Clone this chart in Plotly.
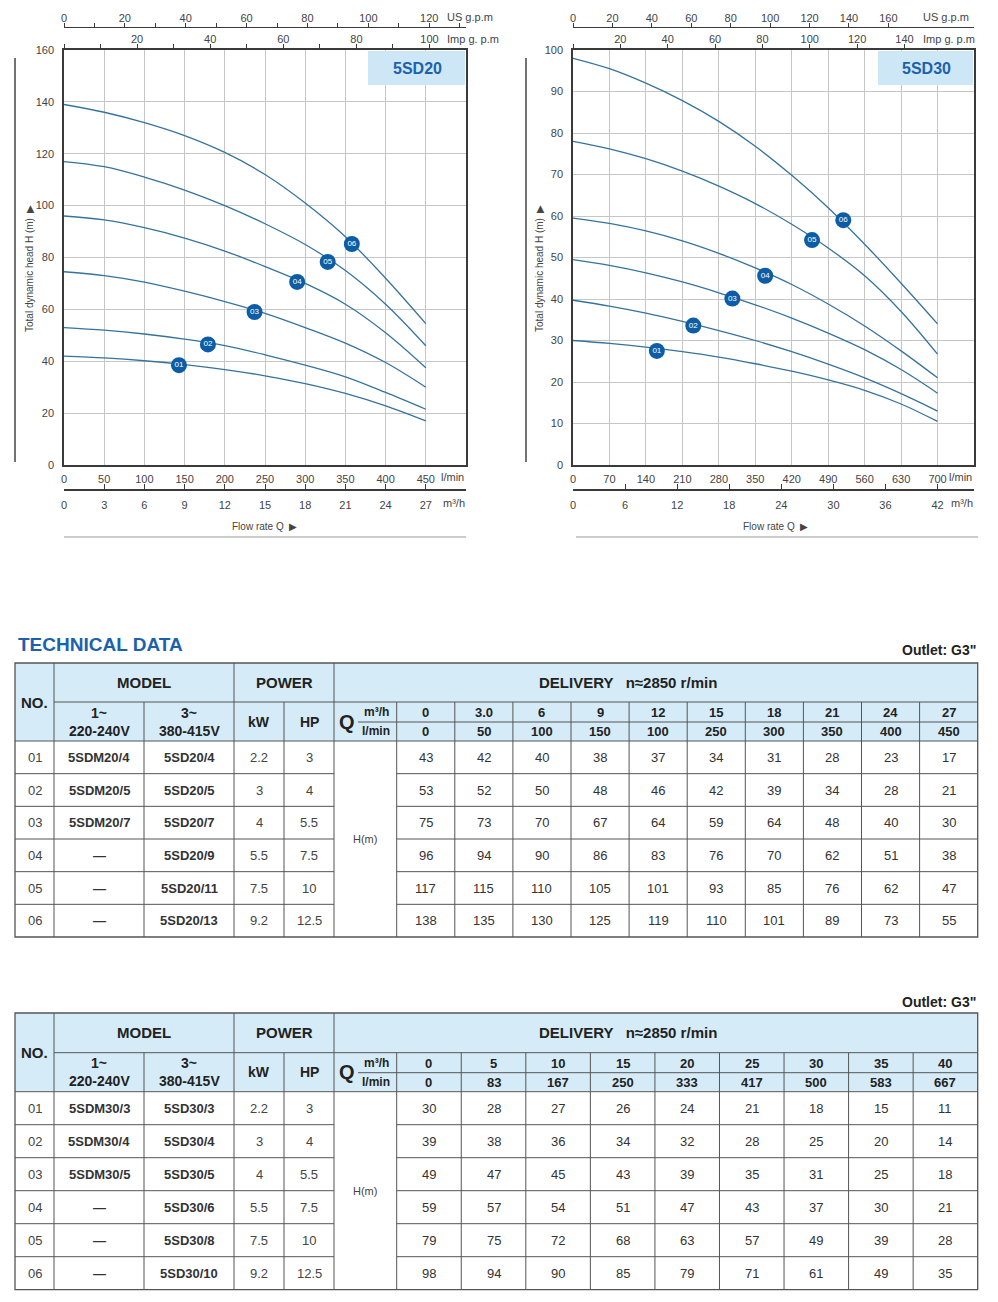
import plotly.graph_objects as go

W, H = 998, 1302
FONT = "Liberation Sans, Arial, Helvetica, sans-serif"
NARROW = "Liberation Sans Narrow, Arial Narrow, Liberation Sans, Arial, sans-serif"
CURVE = "#35739e"
MARK = "#0c5da5"
GRID = "#c6c6c6"
AXIS = "#3a3a3a"
TXT = "#444444"
HDR_FILL = "#d5ecf8"
BOX_FILL = "#cde7f6"
TITLE_BLUE = "#1b62ad"
TBL = "#555555"

# ---------------- chart data ----------------
lpm20 = [0, 50, 100, 150, 200, 250, 300, 350, 400, 450]
h20_01 = [42, 41.3, 40.2, 38.7, 36.8, 34.4, 31.4, 27.6, 22.8, 17]
h20_02 = [53, 52, 50.5, 48.5, 46, 42.5, 38.5, 34, 28, 21.5]
h20_03 = [74.5, 73, 70.5, 67, 63, 58.5, 53, 47, 39.5, 30]
h20_04 = [96, 94.5, 91.5, 87.5, 82.5, 76.5, 70, 62, 51, 37.5]
h20_05 = [117, 115, 111, 106, 100, 93, 85, 75, 62, 46]
h20_06 = [139, 136, 132, 127, 120.5, 112, 101, 88, 72, 54.5]
mk20_lpm = [143, 179, 237, 290, 328, 358]
mk20_h = [38.5, 46.5, 59, 70.6, 78.3, 85.2]

lpm30 = [0, 70, 140, 210, 280, 350, 420, 490, 560, 630, 700]
h30_01 = [30, 29.3, 28.4, 27.3, 26, 24.4, 22.6, 20.5, 18, 14.7, 10.5]
h30_02 = [39.7, 38.3, 36.6, 34.6, 32.4, 30, 27.3, 24.3, 21, 17.2, 13]
h30_03 = [49.5, 48.1, 46.3, 44.1, 41.5, 38.6, 35.4, 31.8, 27.8, 23, 17.3]
h30_04 = [59.5, 58.2, 56.4, 54, 51, 47.5, 43.5, 38.8, 33.5, 27.5, 21]
h30_05 = [78, 76.2, 73.8, 70.8, 67.2, 63, 58, 52.3, 45.6, 37, 26.7]
h30_06 = [98, 95.5, 92, 87.8, 82.8, 76.8, 69.8, 62, 53.2, 43.8, 34]
mk30_lpm = [161, 231, 306, 369, 459, 519]
mk30_h = [27.5, 33.6, 40.1, 45.6, 54.2, 59.0]

curve_labels = ["01", "02", "03", "04", "05", "06"]

# axis ticks
c20_lpm_ticks = [0, 50, 100, 150, 200, 250, 300, 350, 400, 450]
c20_m3h_ticks = [0, 3, 6, 9, 12, 15, 18, 21, 24, 27]
c20_us_ticks = [0, 20, 40, 60, 80, 100, 120]
c20_us_minor = [10, 30, 50, 70, 90, 110, 130]
c20_imp_ticks = [20, 40, 60, 80, 100]
c20_imp_minor = [0, 10, 30, 50, 70, 90, 110]
c20_h_ticks = [0, 20, 40, 60, 80, 100, 120, 140, 160]

c30_lpm_ticks = [0, 70, 140, 210, 280, 350, 420, 490, 560, 630, 700]
c30_m3h_ticks = [0, 6, 12, 18, 24, 30, 36, 42]
c30_us_ticks = [0, 20, 40, 60, 80, 100, 120, 140, 160]
c30_us_minor = []
c30_imp_ticks = [20, 40, 60, 80, 100, 120, 140]
c30_imp_minor = [0]
c30_h_ticks = [0, 10, 20, 30, 40, 50, 60, 70, 80, 90, 100]

# ---------------- table data ----------------
t20_m3h = ["0", "3.0", "6", "9", "12", "15", "18", "21", "24", "27"]
t20_lpm = ["0", "50", "100", "150", "100", "250", "300", "350", "400", "450"]
t20_no = ["01", "02", "03", "04", "05", "06"]
t20_model1 = ["5SDM20/4", "5SDM20/5", "5SDM20/7", "—", "—", "—"]
t20_model3 = ["5SD20/4", "5SD20/5", "5SD20/7", "5SD20/9", "5SD20/11", "5SD20/13"]
t20_kw = ["2.2", "3", "4", "5.5", "7.5", "9.2"]
t20_hp = ["3", "4", "5.5", "7.5", "10", "12.5"]
t20_r01 = [43, 42, 40, 38, 37, 34, 31, 28, 23, 17]
t20_r02 = [53, 52, 50, 48, 46, 42, 39, 34, 28, 21]
t20_r03 = [75, 73, 70, 67, 64, 59, 64, 48, 40, 30]
t20_r04 = [96, 94, 90, 86, 83, 76, 70, 62, 51, 38]
t20_r05 = [117, 115, 110, 105, 101, 93, 85, 76, 62, 47]
t20_r06 = [138, 135, 130, 125, 119, 110, 101, 89, 73, 55]

t30_m3h = ["0", "5", "10", "15", "20", "25", "30", "35", "40"]
t30_lpm = ["0", "83", "167", "250", "333", "417", "500", "583", "667"]
t30_no = ["01", "02", "03", "04", "05", "06"]
t30_model1 = ["5SDM30/3", "5SDM30/4", "5SDM30/5", "—", "—", "—"]
t30_model3 = ["5SD30/3", "5SD30/4", "5SD30/5", "5SD30/6", "5SD30/8", "5SD30/10"]
t30_kw = ["2.2", "3", "4", "5.5", "7.5", "9.2"]
t30_hp = ["3", "4", "5.5", "7.5", "10", "12.5"]
t30_r01 = [30, 28, 27, 26, 24, 21, 18, 15, 11]
t30_r02 = [39, 38, 36, 34, 32, 28, 25, 20, 14]
t30_r03 = [49, 47, 45, 43, 39, 35, 31, 25, 18]
t30_r04 = [59, 57, 54, 51, 47, 43, 37, 30, 21]
t30_r05 = [79, 75, 72, 68, 63, 57, 49, 39, 28]
t30_r06 = [98, 94, 90, 85, 79, 71, 61, 49, 35]


def X(p):
    return p / W


def Y(p):
    return 1 - p / H


fig = go.Figure()
shapes = []
annots = []
layout_axes = {}


def xkey(n):
    return "xaxis" if n == 1 else f"xaxis{n}"


def xref(n):
    return "x" if n == 1 else f"x{n}"


def add_text(x, y, s, size=13, color="#333333", bold=False, xanchor="center",
             family=FONT, angle=0, yanchor="middle"):
    annots.append(dict(
        x=X(x), y=Y(y), xref="paper", yref="paper", showarrow=False,
        text=f"<b>{s}</b>" if bold else s, xanchor=xanchor, yanchor=yanchor,
        textangle=angle, font=dict(size=size, color=color, family=family)))


def hline(x0, x1, y, w=1.0, c=TBL):
    shapes.append(dict(type="line", xref="paper", yref="paper", x0=X(x0), x1=X(x1),
                       y0=Y(y), y1=Y(y), line=dict(color=c, width=w)))


def vline(x, y0, y1, w=1.0, c=TBL):
    shapes.append(dict(type="line", xref="paper", yref="paper", x0=X(x), x1=X(x),
                       y0=Y(y0), y1=Y(y1), line=dict(color=c, width=w)))


def add_chart(base, yname, xl, xr, lpm_max, h_max, lpm_ticks, m3h_ticks, us_ticks,
              us_minor, imp_ticks, imp_minor, h_ticks, lpm, curves, mk_x, mk_y,
              name, box_left, left_line_x, ytitle_x, flow_cx, unit_x, rule_x0, rule_x1):
    n_main, n_m3, n_us, n_imp = base, base + 1, base + 2, base + 3
    yk = "yaxis" if yname == "y" else "yaxis" + yname[1:]
    tickfont = dict(size=11, color=TXT, family=FONT)
    layout_axes[xkey(n_main)] = dict(
        domain=[X(xl), X(xr)], anchor=yname, range=[0, lpm_max],
        tickvals=lpm_ticks, showgrid=True, gridcolor=GRID, gridwidth=1,
        showline=True, mirror=True, linecolor=AXIS, linewidth=1.5,
        ticks="", ticklabelstandoff=3, tickfont=tickfont, zeroline=False,
        automargin=False)
    layout_axes[yk] = dict(
        domain=[Y(465), Y(50)], anchor=xref(n_main), range=[0, h_max],
        tickvals=h_ticks, showgrid=True, gridcolor=GRID, gridwidth=1,
        showline=True, mirror=True, linecolor=AXIS, linewidth=1.5,
        ticks="", ticklabelstandoff=6, tickfont=tickfont, zeroline=False,
        automargin=False)
    layout_axes[xkey(n_m3)] = dict(
        overlaying=xref(n_main), anchor="free", position=Y(490), side="bottom",
        range=[0, lpm_max * 0.06], tickvals=m3h_ticks, ticks="inside", ticklen=5,
        tickwidth=1.2, tickcolor=AXIS, showline=True, linecolor=AXIS, linewidth=1.5,
        showgrid=False, zeroline=False, tickfont=tickfont, ticklabelstandoff=5,
        automargin=False)
    layout_axes[xkey(n_us)] = dict(
        overlaying=xref(n_main), anchor="free", position=Y(27), side="top",
        range=[0, lpm_max / 3.78541], tickvals=us_ticks, ticks="outside", ticklen=4,
        tickwidth=1, tickcolor=AXIS, showline=True, linecolor=AXIS, linewidth=1.2,
        minor=dict(tickvals=us_minor, ticks="outside", ticklen=4, tickcolor=AXIS),
        showgrid=False, zeroline=False, tickfont=tickfont, ticklabelstandoff=-3,
        automargin=False)
    layout_axes[xkey(n_imp)] = dict(
        overlaying=xref(n_main), anchor=yname, side="top",
        range=[0, lpm_max / 4.54609], tickvals=imp_ticks, ticks="outside", ticklen=4,
        tickwidth=1, tickcolor=AXIS, showline=True, linecolor=AXIS, linewidth=1.5,
        minor=dict(tickvals=imp_minor, ticks="outside", ticklen=4, tickcolor=AXIS),
        showgrid=False, zeroline=False, tickfont=tickfont, ticklabelstandoff=-3,
        automargin=False)

    for n in (n_m3, n_us, n_imp):
        fig.add_trace(go.Scatter(x=[0], y=[0], xaxis=xref(n), yaxis=yname, mode="markers",
                                 marker=dict(opacity=0, size=1), hoverinfo="skip",
                                 showlegend=False))
    for h in curves:
        fig.add_trace(go.Scatter(x=lpm, y=h, xaxis=xref(n_main), yaxis=yname, mode="lines",
                                 line=dict(color=CURVE, width=1.3, shape="spline",
                                           smoothing=1.0),
                                 hoverinfo="skip", showlegend=False))
    fig.add_trace(go.Scatter(x=mk_x, y=mk_y, xaxis=xref(n_main), yaxis=yname,
                             mode="markers+text", text=curve_labels,
                             textposition="middle center",
                             textfont=dict(color="white", size=8, family=FONT),
                             marker=dict(size=16, color=MARK), hoverinfo="skip",
                             showlegend=False, cliponaxis=False))

    # name box
    shapes.append(dict(type="rect", xref="paper", yref="paper", x0=X(box_left),
                       x1=X(xr - 1), y0=Y(85), y1=Y(51), fillcolor=BOX_FILL,
                       line=dict(width=0), layer="above"))
    add_text((box_left + xr) / 2, 68, name, size=16, color=TITLE_BLUE, bold=True)
    # left rule, bottom rule
    vline(left_line_x, 58, 462, w=1.5, c="#444444")
    hline(rule_x0, rule_x1, 537, w=1, c="#999999")
    # units
    add_text(unit_x, 17, "US g.p.m", size=11, color=TXT, xanchor="left")
    add_text(unit_x, 39, "Imp g. p.m", size=11, color=TXT, xanchor="left")
    add_text(xr - 0.5, 477, "l/min", size=11, color=TXT, xanchor="right")
    add_text(xr + 1, 503, "m³/h", size=11, color=TXT, xanchor="right")
    add_text(flow_cx, 526, "Flow rate Q  ▶", size=10, color=TXT)
    add_text(ytitle_x, 268, "Total dynamic head H (m)  ▶", size=10, color=TXT, angle=-90)


add_chart(1, "y", 64, 466, 500, 160, c20_lpm_ticks, c20_m3h_ticks, c20_us_ticks,
          c20_us_minor, c20_imp_ticks, c20_imp_minor, c20_h_ticks, lpm20,
          [h20_01, h20_02, h20_03, h20_04, h20_05, h20_06], mk20_lpm, mk20_h,
          "5SD20", 368, 15, 30, 264, 445, 64, 466)
add_chart(5, "y2", 573, 974, 770, 100, c30_lpm_ticks, c30_m3h_ticks, c30_us_ticks,
          c30_us_minor, c30_imp_ticks, c30_imp_minor, c30_h_ticks, lpm30,
          [h30_01, h30_02, h30_03, h30_04, h30_05, h30_06], mk30_lpm, mk30_h,
          "5SD30", 878, 526, 540, 775, 921, 576, 978)


# ---------------- tables ----------------
def build_table(top, r1, mid, hb, bottom, n_cols, m3h, lpm, nos, m1, m3, kw, hp, rows,
                outlet_y):
    left, right = 15, 977.7
    q_left = 396.7
    cw = (right - q_left) / n_cols
    edges = [q_left + cw * k for k in range(n_cols + 1)]
    shapes.append(dict(type="rect", xref="paper", yref="paper", x0=X(left), x1=X(right),
                       y0=Y(hb), y1=Y(top), fillcolor=HDR_FILL, line=dict(width=0),
                       layer="below"))
    shapes.append(dict(type="rect", xref="paper", yref="paper", x0=X(left), x1=X(right),
                       y0=Y(bottom), y1=Y(top), line=dict(color=TBL, width=1.3)))
    hline(54, right, r1)
    hline(358, right, mid)
    hline(left, right, hb)
    row_h = (bottom - hb) / len(rows)
    for i in range(1, len(rows)):
        y = hb + i * row_h
        hline(left, 334, y)
        hline(q_left, right, y)
    vline(54, top, bottom)
    vline(144, r1, bottom)
    vline(234, top, bottom)
    vline(284, r1, bottom)
    vline(334, top, bottom)
    for e in edges[:-1]:
        vline(e, r1, bottom)

    hc = "#222222"
    add_text(34.5, (top + hb) / 2, "NO.", size=15, color=hc, bold=True)
    add_text(144, (top + r1) / 2, "MODEL", size=15, color=hc, bold=True)
    add_text(284, (top + r1) / 2, "POWER", size=15, color=hc, bold=True)
    add_text(628, (top + r1) / 2, "DELIVERY   n≈2850 r/min", size=15, color=hc, bold=True)
    r2c = (r1 + hb) / 2
    add_text(99, r2c - 9, "1~", size=14, color=hc, bold=True)
    add_text(99, r2c + 9, "220-240V", size=14, color=hc, bold=True)
    add_text(189, r2c - 9, "3~", size=14, color=hc, bold=True)
    add_text(189, r2c + 9, "380-415V", size=14, color=hc, bold=True)
    add_text(259, r2c, "kW", size=14, color=hc, bold=True)
    add_text(309, r2c, "HP", size=14, color=hc, bold=True)
    add_text(347, r2c, "Q", size=20, color=hc, bold=True)
    add_text(376, (r1 + mid) / 2, "m³/h", size=12, color=hc, bold=True)
    add_text(376, (mid + hb) / 2, "l/min", size=12, color=hc, bold=True)
    for k in range(n_cols):
        cx = (edges[k] + edges[k + 1]) / 2
        add_text(cx, (r1 + mid) / 2 + 0.5, m3h[k], size=13, color=hc, bold=True)
        add_text(cx, (mid + hb) / 2, lpm[k], size=13, color=hc, bold=True)
    dc = "#333333"
    for i, vals in enumerate(rows):
        cy = hb + (i + 0.5) * row_h
        add_text(34.5, cy, nos[i], size=13, color=TXT)
        add_text(99, cy, m1[i], size=13, color=dc, bold=True)
        add_text(189, cy, m3[i], size=13, color=dc, bold=True)
        add_text(259, cy, kw[i], size=13, color=TXT)
        add_text(309, cy, hp[i], size=13, color=TXT)
        for k in range(n_cols):
            cx = (edges[k] + edges[k + 1]) / 2
            add_text(cx, cy, str(vals[k]), size=13, color=dc)
    add_text(365, (hb + bottom) / 2, "H(m)", size=11, color=TXT)
    add_text(978, outlet_y, 'Outlet: G3"', size=14, color="#222222", bold=True,
             xanchor="right")


add_text(16, 644, "TECHNICAL DATA", size=19, color=TITLE_BLUE, bold=True,
         xanchor="left", family=NARROW)
build_table(663, 702, 722, 741, 937, 10, t20_m3h, t20_lpm, t20_no, t20_model1,
            t20_model3, t20_kw, t20_hp,
            [t20_r01, t20_r02, t20_r03, t20_r04, t20_r05, t20_r06], 650)
build_table(1013, 1052.7, 1072.7, 1091.7, 1289.7, 9, t30_m3h, t30_lpm, t30_no,
            t30_model1, t30_model3, t30_kw, t30_hp,
            [t30_r01, t30_r02, t30_r03, t30_r04, t30_r05, t30_r06], 1002)

fig.update_layout(
    width=W, height=H,
    margin=dict(l=0, r=0, t=0, b=0, pad=0, autoexpand=False),
    paper_bgcolor="white", plot_bgcolor="white", showlegend=False,
    font=dict(family=FONT, size=11, color=TXT),
    shapes=shapes, annotations=annots, **layout_axes)

fig.write_html("out.html")
